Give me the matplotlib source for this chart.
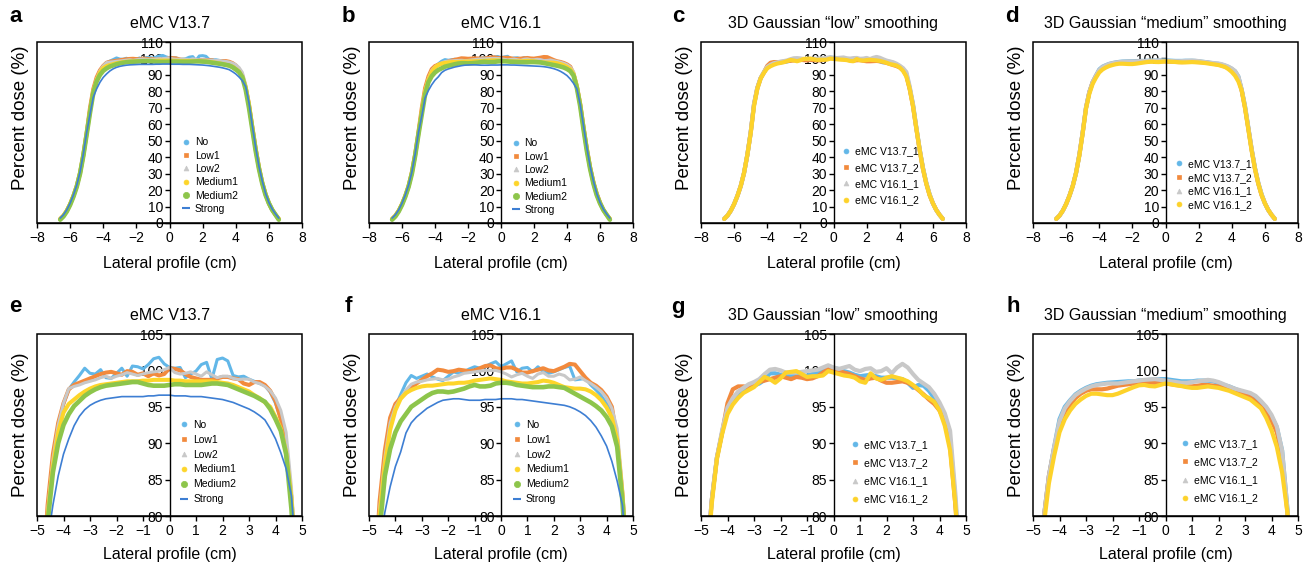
import matplotlib
matplotlib.use('Agg')
import matplotlib.pyplot as plt
from matplotlib.lines import Line2D
from matplotlib.patches import Rectangle

plt.rcParams['font.family'] = ['Liberation Sans', 'DejaVu Sans']

# lateral positions (cm) where the profiles were read
X = [-6.6, -6.4, -6.2, -6.0, -5.8, -5.6, -5.4, -5.2, -5.0,
     -4.8, -4.6, -4.4, -4.2, -4.0, -3.8, -3.6, -3.4, -3.2, -3.0,
     -2.8, -2.6, -2.4, -2.2, -2.0, -1.8, -1.6, -1.4, -1.2, -1.0,
     -0.8, -0.6, -0.4, -0.2, 0.0, 0.2, 0.4, 0.6, 0.8, 1.0,
     1.2, 1.4, 1.6, 1.8, 2.0, 2.2, 2.4, 2.6, 2.8, 3.0,
     3.2, 3.4, 3.6, 3.8, 4.0, 4.2, 4.4, 4.6, 4.8,
     5.0, 5.2, 5.4, 5.6, 5.8, 6.0, 6.2, 6.4, 6.6]

# ---- eMC V13.7 (panels a, e) ----
A_NO = [2.5, 4.5, 7.5, 11.5, 16.5, 22.5, 30.5, 41.0, 54.0,
        68, 80.5, 87.5, 92.3, 95.3, 97.4, 98.4, 99.3, 100.3, 99.6,
        99.5, 100.1, 99.0, 98.9, 99.6, 100.3, 99.2, 100.6, 100.5, 100.2,
        100.8, 101.6, 101.8, 100.9, 100.4, 100.3, 100.4, 99.0, 99.5, 99.9,
        100.8, 101.1, 98.8, 101.5, 101.7, 101.3, 99.3, 99.1, 99.2, 98.8,
        98.5, 98.2, 97.9, 97.0, 95.5, 93.3, 90.0, 82.0, 72.0,
        58.0, 45.0, 33.5, 24.5, 17.5, 12.0, 8.0, 5.0, 2.5]
A_LOW1 = [2.5, 4.5, 7.5, 11.5, 16.5, 22.5, 30.5, 41.5, 55.0,
          70, 81.5, 88.5, 92.8, 95.5, 97.4, 98.0, 98.3, 98.6, 98.9,
          99.2, 99.5, 99.7, 99.8, 99.6, 99.4, 99.9, 99.8, 99.4, 99.6,
          99.2, 99.6, 99.3, 99.5, 100.3, 100.2, 100.0, 99.5, 99.1, 98.9,
          98.7, 98.7, 98.7, 98.9, 99.1, 99.1, 98.9, 98.8, 98.2, 98.0,
          98.4, 98.4, 98.0, 97.2, 95.8, 93.3, 89.5, 82.5, 72.0,
          58.5, 45.5, 34.0, 24.5, 17.5, 12.0, 8.0, 5.0, 2.5]
A_LOW2 = [2.5, 4.5, 7.5, 11.5, 16.5, 22.5, 30.5, 41.0, 54.5,
          69, 80.8, 87.8, 92.5, 95.5, 97.5, 97.8, 98.0, 98.3, 98.5,
          98.7, 99.0, 99.2, 98.9, 99.2, 99.4, 99.7, 99.5, 99.3, 99.5,
          99.7, 99.8, 99.9, 100.1, 100.4, 99.7, 99.5, 99.6, 99.8, 99.5,
          99.2, 99.8, 99.4, 99.0, 99.2, 99.2, 98.9, 98.75, 98.8, 98.8,
          98.4, 98.2, 97.8, 97.2, 96.2, 94.5, 91.5, 84.0, 73.0,
          58.5, 45.5, 34.0, 25.0, 18.0, 12.5, 8.0, 5.0, 2.5]
A_MED1 = [2.5, 4.5, 7.5, 11.5, 16.5, 22.5, 30.5, 41.5, 54.5,
          68, 80.0, 86.8, 91.5, 94.2, 95.4, 96.0, 96.6, 97.1, 97.5,
          97.8, 98.0, 98.1, 98.2, 98.3, 98.4, 98.5, 98.5, 98.5, 98.6,
          98.6, 98.7, 98.7, 98.7, 98.7, 98.6, 98.6, 98.5, 98.5, 98.5,
          98.5, 98.5, 98.5, 98.4, 98.3, 98.2, 98.0, 97.7, 97.4, 97.1,
          96.6, 96.2, 95.6, 95.0, 93.6, 92.0, 88.8, 82.5, 72.0,
          58.0, 45.0, 33.5, 24.5, 17.5, 12.0, 8.0, 5.0, 2.5]
A_MED2 = [2.0, 4.0, 7.0, 11.0, 16.0, 22.0, 30.0, 41.0, 54.0,
          67, 79.0, 86.0, 90.0, 92.5, 94.0, 95.1, 95.8, 96.5, 97.0,
          97.4, 97.7, 97.9, 98.0, 98.1, 98.2, 98.3, 98.4, 98.4, 98.2,
          98.0, 97.9, 97.9, 97.9, 98.0, 98.1, 98.1, 98.0, 98.0, 98.0,
          98.0, 98.1, 98.2, 98.2, 98.1, 98.0, 97.7, 97.4, 97.1, 96.8,
          96.5, 96.1, 95.7, 94.7, 93.3, 91.7, 88.5, 81.0, 70.0,
          57.0, 44.0, 33.0, 24.0, 17.0, 12.0, 8.0, 5.0, 2.0]
A_STRONG = [3.0, 5.0, 8.0, 12.0, 17.0, 23.0, 31.0, 42.0, 55.0,
            66, 76.5, 81.5, 85.5, 88.5, 90.6, 92.4, 93.7, 94.6, 95.2,
            95.6, 95.9, 96.1, 96.2, 96.3, 96.4, 96.4, 96.4, 96.4, 96.4,
            96.5, 96.5, 96.6, 96.6, 96.6, 96.5, 96.5, 96.5, 96.4, 96.4,
            96.4, 96.3, 96.2, 96.1, 96.0, 95.8, 95.6, 95.3, 95.0, 94.7,
            94.3, 93.8, 93.2, 92.0, 90.6, 88.7, 86.5, 82.8, 73.0,
            59.0, 46.0, 34.5, 25.5, 18.0, 12.5, 8.5, 5.5, 3.0]

# ---- eMC V16.1 (panels b, f) ----
B_NO = [2.5, 4.5, 7.5, 11.5, 16.5, 22.5, 30.5, 41.5, 55.0,
        69, 81, 87.5, 92.3, 95.0, 96.7, 98.3, 99.3, 98.9, 99.2,
        99.5, 99.1, 98.8, 98.6, 99.2, 99.8, 99.6, 99.8, 100.2, 100.5,
        100.3, 100.5, 100.9, 101.2, 100.5, 100.9, 101.3, 99.8, 100.3, 100.4,
        99.8, 100.5, 99.8, 99.6, 99.8, 100.1, 100.4, 100.6, 98.7, 98.8,
        98.9, 98.0, 97.3, 96.5, 95.4, 94.0, 91.0, 83.0, 72.0,
        58.5, 45.5, 34.0, 25.0, 18.0, 12.5, 8.0, 5.0, 2.5]
B_LOW1 = [2.5, 4.5, 7.5, 11.5, 16.5, 22.5, 31.0, 42.0, 55.5,
          70, 82, 89, 93.5, 95.4, 96.2, 96.9, 97.6, 98.2, 98.7,
          99.2, 99.6, 100.1, 100.0, 99.8, 99.9, 100.1, 100.0, 99.9, 100.0,
          100.3, 100.6, 100.7, 100.3, 100.2, 100.4, 100.4, 100.1, 99.7, 99.7,
          99.9, 100.1, 100.3, 100.0, 99.9, 100.2, 100.5, 100.9, 100.8, 99.9,
          99.0, 98.3, 97.9, 97.3, 96.4, 95.0, 90.5, 83.0, 72.5,
          58.5, 45.5, 34.0, 25.0, 18.0, 12.5, 8.0, 5.0, 2.5]
B_LOW2 = [2.5, 4.5, 7.5, 11.5, 16.5, 22.5, 30.5, 41.5, 55.0,
          69, 81, 88, 92.8, 95.0, 96.2, 97.3, 98.1, 98.4, 98.5,
          98.7, 98.8, 98.9, 98.7, 98.8, 99.1, 99.3, 99.6, 99.7, 99.8,
          99.9, 100.0, 100.0, 100.0, 99.8, 99.5, 99.1, 99.4, 99.6, 99.2,
          98.9, 99.5, 99.7, 99.2, 99.2, 99.5, 99.3, 98.7, 98.8, 99.1,
          98.6, 98.2, 97.7, 97.1, 96.2, 94.8, 92.0, 84.0, 73.0,
          58.5, 45.5, 34.0, 25.0, 18.0, 12.5, 8.0, 5.0, 2.5]
B_MED1 = [2.5, 4.5, 7.5, 11.5, 16.5, 22.5, 30.5, 41.5, 54.5,
          68, 80, 87, 91.8, 94.5, 96.1, 96.9, 97.3, 97.6, 97.8,
          97.9, 97.9, 98.0, 98.1, 98.2, 98.2, 98.3, 98.3, 98.4, 98.6,
          98.7, 98.8, 98.9, 98.8, 98.7, 98.5, 98.4, 98.3, 98.2, 98.2,
          98.3, 98.4, 98.6, 98.5, 98.3, 98.0, 97.7, 97.6, 97.5, 97.5,
          97.4, 97.1, 96.6, 95.9, 94.9, 93.5, 90.5, 83.0, 72.0,
          58.0, 45.0, 33.5, 24.5, 17.5, 12.0, 8.0, 5.0, 2.5]
B_MED2 = [2.0, 4.0, 7.0, 11.0, 16.0, 22.0, 30.0, 41.0, 54.0,
          66, 78, 85.5, 89.2, 91.5, 93.0, 94.0, 95.0, 95.5, 96.0,
          96.5, 96.9, 97.1, 97.1, 97.0, 97.1, 97.3, 97.5, 97.8, 98.0,
          97.8, 97.8, 97.9, 98.2, 98.3, 98.3, 98.2, 98.0, 97.9, 97.8,
          97.7, 97.7, 97.7, 97.8, 97.8, 97.7, 97.6, 97.2, 96.8, 96.4,
          96.0, 95.6, 95.1, 94.5, 93.6, 92.3, 89.5, 82.0, 71.0,
          57.0, 44.0, 33.0, 24.0, 17.0, 12.0, 8.0, 5.0, 2.0]
B_STRONG = [3.0, 5.0, 8.0, 12.0, 17.0, 23.0, 31.0, 42.0, 55.0,
            65, 76, 80.5, 84.0, 86.8, 88.8, 91.4, 92.8, 93.6, 94.2,
            94.8, 95.2, 95.6, 95.9, 96.0, 96.1, 96.1, 96.0, 95.9, 95.9,
            95.9, 96.0, 96.0, 96.0, 96.1, 96.1, 96.1, 96.0, 96.0, 95.9,
            95.8, 95.7, 95.6, 95.5, 95.4, 95.3, 95.2, 95.0, 94.7, 94.3,
            93.8, 93.1, 92.2, 91.0, 89.6, 87.5, 84.8, 81.5, 72.0,
            59.0, 46.0, 34.5, 25.5, 18.0, 12.5, 8.5, 5.5, 3.0]

# ---- 3D Gaussian "low" smoothing (panels c, g) ----
C_V137_1 = [2.5, 4.5, 7.5, 11.5, 16.5, 22.5, 30.5, 41.5, 55.0,
            72, 82, 88, 91.5, 94.8, 96.0, 96.8, 97.3, 97.6, 97.9,
            98.2, 98.7, 99.6, 99.6, 99.4, 99.3, 99.2, 99.3, 99.2, 99.3,
            99.5, 99.7, 100.0, 100.5, 100.3, 100.2, 99.9, 99.7, 99.4, 99.2,
            99.3, 99.4, 99.2, 99.0, 99.0, 99.0, 98.9, 98.8, 98.3, 97.6,
            98.0, 97.9, 97.2, 96.2, 95.0, 93.4, 90.5, 82.0, 72.0,
            58.0, 45.0, 33.5, 24.5, 17.5, 12.0, 8.0, 5.0, 2.5]
C_V137_2 = [2.5, 4.5, 7.5, 11.5, 16.5, 22.5, 30.5, 41.5, 55.0,
            72, 82, 88, 91.5, 95.5, 97.4, 97.8, 97.8, 97.7, 98.1,
            98.4, 98.6, 98.8, 99.0, 99.2, 99.0, 98.8, 99.1, 99.0, 98.8,
            98.9, 99.2, 99.7, 100.2, 100.2, 99.9, 99.7, 99.5, 99.2, 98.9,
            98.7, 98.9, 99.0, 98.6, 98.3, 98.3, 98.4, 98.5, 98.3, 97.9,
            97.3, 96.7, 96.0, 95.4, 94.5, 93.0, 89.5, 81.5, 71.0,
            57.5, 44.5, 33.0, 24.0, 17.0, 12.0, 8.0, 5.0, 2.5]
C_V161_1 = [2.5, 4.5, 7.5, 11.5, 16.5, 22.5, 30.5, 41.5, 55.0,
            72, 82, 88, 91.8, 94.9, 96.2, 97.1, 97.6, 98.1, 98.4,
            98.8, 99.5, 100.1, 100.2, 100.0, 99.7, 99.7, 99.7, 99.8, 99.9,
            100.0, 100.1, 100.4, 100.7, 100.4, 100.2, 100.4, 100.6, 100.1, 99.9,
            100.2, 100.3, 99.8, 99.9, 100.3, 99.6, 100.4, 100.9, 100.4, 99.5,
            98.7, 98.2, 97.7, 96.8, 95.6, 94.1, 91.7, 83.0, 72.0,
            58.0, 45.0, 33.5, 24.5, 17.5, 12.0, 8.0, 5.0, 2.5]
C_V161_2 = [2.5, 4.5, 7.5, 11.5, 16.5, 22.5, 30.5, 41.5, 54.5,
            71, 81.5, 87.8, 91.3, 94.0, 95.3, 96.2, 96.9, 97.3, 97.7,
            98.4, 99.1, 98.8, 98.3, 98.9, 99.7, 99.8, 99.9, 99.5, 99.1,
            99.2, 99.2, 99.3, 99.9, 99.7, 99.5, 99.3, 99.2, 99.0, 98.5,
            98.3, 99.6, 98.9, 98.7, 99.0, 99.2, 99.0, 98.8, 98.5, 98.0,
            97.4, 96.6, 96.2, 95.7, 94.5, 92.4, 89.0, 81.5, 71.0,
            57.5, 44.5, 33.0, 24.0, 17.0, 12.0, 8.0, 5.0, 2.5]

# ---- 3D Gaussian "medium" smoothing (panels d, h) ----
D_V137_1 = [2.5, 4.5, 7.5, 11.5, 16.5, 22.5, 30.5, 41.5, 55.0,
            70, 79.5, 85.5, 89.5, 93.3, 95.0, 95.9, 96.7, 97.2, 97.6,
            97.9, 98.1, 98.2, 98.3, 98.35, 98.4, 98.45, 98.5, 98.5, 98.6,
            98.65, 98.7, 98.75, 98.8, 98.8, 98.7, 98.6, 98.5, 98.5, 98.5,
            98.6, 98.6, 98.6, 98.5, 98.3, 98.0, 97.8, 97.5, 97.2, 96.9,
            96.7, 96.2, 95.6, 94.8, 93.7, 92.2, 89.0, 81.0, 71.0,
            58.0, 45.0, 33.5, 24.5, 17.5, 12.0, 8.0, 5.0, 2.5]
D_V137_2 = [2.5, 4.5, 7.5, 11.5, 16.5, 22.5, 30.5, 41.5, 55.0,
            70, 79.5, 85.5, 89.3, 92.5, 94.3, 95.3, 96.2, 96.8, 97.2,
            97.4, 97.4, 97.4, 97.5, 97.7, 97.9, 98.0, 98.1, 98.2, 98.3,
            98.3, 98.3, 98.3, 98.3, 98.2, 98.1, 98.0, 97.9, 97.8, 97.8,
            97.9, 98.0, 98.0, 97.9, 97.8, 97.7, 97.5, 97.3, 96.9, 96.6,
            96.3, 95.7, 95.0, 94.2, 93.1, 91.5, 88.0, 80.5, 70.0,
            57.5, 44.5, 33.0, 24.0, 17.0, 12.0, 8.0, 5.0, 2.5]
D_V161_1 = [2.5, 4.5, 7.5, 11.5, 16.5, 22.5, 30.5, 41.5, 55.0,
            70, 79.5, 85.5, 89.5, 93.0, 94.8, 95.8, 96.6, 97.1, 97.5,
            97.8, 98.0, 98.1, 98.2, 98.2, 98.2, 98.3, 98.4, 98.5, 98.6,
            98.7, 98.75, 98.8, 98.7, 98.6, 98.5, 98.4, 98.3, 98.3, 98.4,
            98.5, 98.6, 98.7, 98.6, 98.4, 98.1, 97.8, 97.5, 97.3, 97.1,
            96.9, 96.5, 95.8, 95.0, 93.9, 92.3, 89.0, 81.0, 71.0,
            58.0, 45.0, 33.5, 24.5, 17.5, 12.0, 8.0, 5.0, 2.5]
D_V161_2 = [2.5, 4.5, 7.5, 11.5, 16.5, 22.5, 30.5, 41.0, 54.5,
            69.5, 78.5, 84.5, 88.3, 91.5, 93.3, 94.5, 95.4, 96.0, 96.5,
            96.8, 96.8, 96.7, 96.6, 96.6, 96.8, 97.1, 97.4, 97.7, 97.95,
            98.0, 97.85, 97.8, 98.0, 98.2, 98.1, 97.95, 97.85, 97.7, 97.6,
            97.6, 97.7, 97.8, 97.7, 97.6, 97.4, 97.2, 96.9, 96.6, 96.3,
            96.0, 95.4, 94.8, 93.5, 91.8, 89.5, 86.0, 80.5, 70.0,
            57.0, 44.0, 33.0, 24.0, 17.0, 12.0, 8.0, 5.0, 2.5]

SMOOTH_LABELS = ['No', 'Low1', 'Low2', 'Medium1', 'Medium2', 'Strong']
VERSION_LABELS = ['eMC V13.7_1', 'eMC V13.7_2', 'eMC V16.1_1', 'eMC V16.1_2']
TITLES = ['eMC V13.7', 'eMC V16.1',
          '3D Gaussian \u201clow\u201d smoothing',
          '3D Gaussian \u201cmedium\u201d smoothing']
LETTERS_TOP = ['a', 'b', 'c', 'd']
LETTERS_BOTTOM = ['e', 'f', 'g', 'h']

SERIES = [
    [A_NO, A_LOW1, A_LOW2, A_MED1, A_MED2, A_STRONG],
    [B_NO, B_LOW1, B_LOW2, B_MED1, B_MED2, B_STRONG],
    [C_V137_1, C_V137_2, C_V161_1, C_V161_2],
    [D_V137_1, D_V137_2, D_V161_1, D_V161_2],
]
LABELS = [SMOOTH_LABELS, SMOOTH_LABELS, VERSION_LABELS, VERSION_LABELS]

# styles
SMOOTH_STYLE = [
    dict(color='#62B7E8', lw=2.2, marker='o', ms=3.5),
    dict(color='#F28A3D', lw=2.9, marker='s', ms=3.5),
    dict(color='#C8C8C8', lw=2.2, marker='^', ms=3.5),
    dict(color='#FDD52A', lw=2.9, marker='o', ms=3.5),
    dict(color='#8DC54B', lw=3.3, marker='o', ms=4.5),
    dict(color='#3D7ED3', lw=1.2, marker='_', ms=5.5),
]
VERSION_STYLE = [
    dict(color='#62B7E8', lw=3.0, marker='o', ms=3.5),
    dict(color='#F28A3D', lw=3.0, marker='s', ms=3.5),
    dict(color='#C8C8C8', lw=3.0, marker='^', ms=3.5),
    dict(color='#FDD22A', lw=3.0, marker='o', ms=3.5),
]
STYLES = [SMOOTH_STYLE, SMOOTH_STYLE, VERSION_STYLE, VERSION_STYLE]

W, H = 1309, 564
fig = plt.figure(figsize=(W / 100, H / 100), dpi=100)

COL_LEFT = [37, 369, 701, 1033]
COL_W = [265, 264, 265, 265]
ROWS = [(42, 223), (334, 516)]

LEG_TOP = [[(0.547, 0.473), (0.54, 0.468), (0.532, 0.423), (0.536, 0.353)],
           [(0.54, 0.529), (0.545, 0.529), (0.566, 0.419), (0.558, 0.424)]]
LEG_SPACING = [[0.32, 0.32, 0.6, 0.35], [0.47, 0.47, 0.79, 0.79]]
LETTER_POS = [[(16, 17), (348, 17), (678, 17), (1012, 17)],
              [(15, 307), (348, 307), (678, 307), (1013, 307)]]


def setup_axes(ax, row):
    if row == 0:
        ax.set_xlim(-8, 8)
        ax.set_ylim(0, 110)
        ax.set_xticks(range(-8, 9, 2))
        ax.set_yticks(range(0, 111, 10))
    else:
        ax.set_xlim(-5, 5)
        ax.set_ylim(80, 105)
        ax.set_xticks(range(-5, 6, 1))
        ax.set_yticks(range(80, 106, 5))
    ax.spines['left'].set_position(('data', 0))
    for s in ['top', 'right']:
        ax.spines[s].set_visible(False)
    for s in ['left', 'bottom']:
        ax.spines[s].set_linewidth(1.0)
    ax.add_patch(Rectangle((0, 0), 1, 1, transform=ax.transAxes, fill=False,
                           lw=1.1, edgecolor='black', zorder=5, clip_on=False))
    ax.tick_params(axis='both', direction='out', length=3.5, width=1.0,
                   labelsize=10, colors='black')
    ax.tick_params(axis='y', pad=1.2)
    ax.tick_params(axis='x', pad=2.5)


for row in range(2):
    top, bottom = ROWS[row]
    for col in range(4):
        ax = fig.add_axes([COL_LEFT[col] / W, 1 - bottom / H,
                           COL_W[col] / W, (bottom - top) / H])
        setup_axes(ax, row)
        for vals, st in zip(SERIES[col], STYLES[col]):
            ax.plot(X, vals, color=st['color'], lw=st['lw'],
                    solid_joinstyle='round', solid_capstyle='round', zorder=2)
        handles = [Line2D([], [], linestyle='None', marker=st['marker'],
                          color=st['color'], ms=st['ms'],
                          mew=1.5 if st['marker'] == '_' else 0.5)
                   for st in STYLES[col]]
        ax.legend(handles, LABELS[col], loc='upper left',
                  bbox_to_anchor=LEG_TOP[row][col], frameon=False,
                  fontsize=7.5, handlelength=0.8, handletextpad=0.45,
                  labelspacing=LEG_SPACING[row][col], borderpad=0,
                  borderaxespad=0)
        ax.set_title(TITLES[col], fontsize=11.5, pad=10)
        ax.set_xlabel('Lateral profile (cm)', fontsize=11.5)
        ax.set_ylabel('Percent dose (%)', fontsize=13.5)
        ax.xaxis.set_label_coords(0.5, -0.18 if row == 0 else -0.17)
        ax.yaxis.set_label_coords(-0.03, 0.58 if row == 0 else 0.5)
        letters = LETTERS_TOP if row == 0 else LETTERS_BOTTOM
        lx, ly = LETTER_POS[row][col]
        fig.text(lx / W, 1 - ly / H, letters[col], fontsize=16,
                 fontweight='bold', ha='center', va='center')

fig.savefig('out.png', dpi=100)
